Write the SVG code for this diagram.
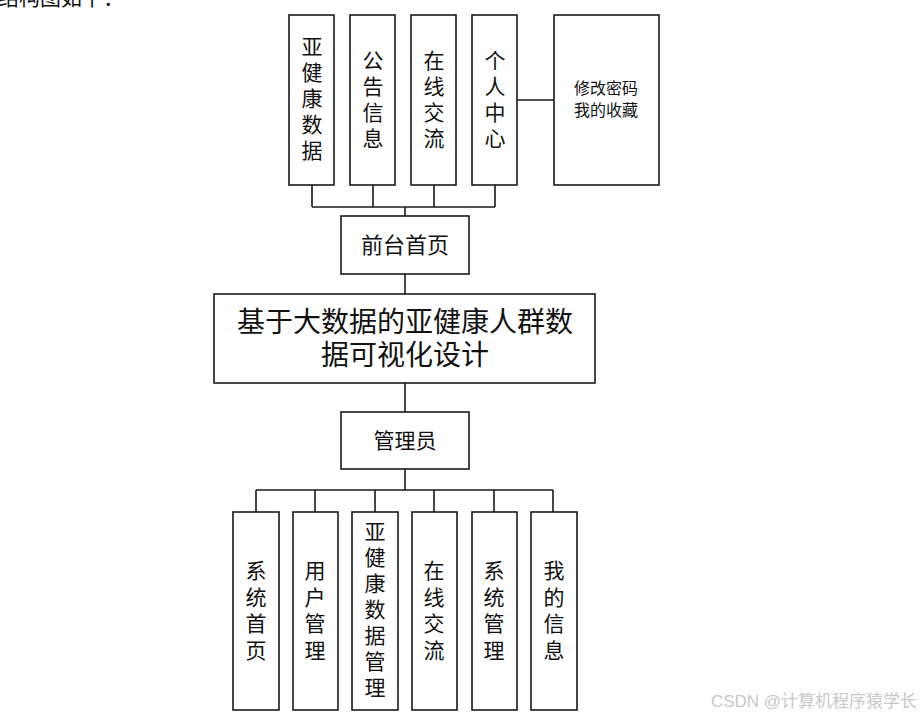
<svg xmlns="http://www.w3.org/2000/svg" width="922" height="716" viewBox="0 0 922 716">
<style>
.box{fill:#fff;stroke:#1a1a1a;stroke-width:1.6}
.ln{fill:none;stroke:#1a1a1a;stroke-width:1.6}
text{font-family:"Liberation Serif","Noto Sans CJK SC",serif;fill:#111;text-anchor:middle}
.v{font-size:21px}
.s{font-size:16px}
</style>
<rect width="922" height="716" fill="#fff"/>
<text x="-2" y="5" style="font-size:21px;text-anchor:start">结构图如下：</text>
<g id="connectors">
<path class="ln" d="M517,100H554"/>
<path class="ln" d="M312,185V207M373,185V207M434,185V207M495,185V207M312,207H495M405,207V216"/>
<path class="ln" d="M405,274V294M405,383V412M405,469V490"/>
<path class="ln" d="M256,490H553M256,490V512M315,490V512M375,490V512M434,490V512M494,490V512M553,490V512"/>
</g>
<g id="n-yajiankang">
<rect class="box" x="289" y="15" width="45" height="170"/>
<text class="v" x="312" y="54"><tspan x="312">亚</tspan><tspan x="312" dy="26">健</tspan><tspan x="312" dy="26">康</tspan><tspan x="312" dy="26">数</tspan><tspan x="312" dy="26">据</tspan></text>
</g>
<g id="n-gonggao">
<rect class="box" x="350" y="15" width="45" height="170"/>
<text class="v" x="373" y="68"><tspan x="373">公</tspan><tspan x="373" dy="26">告</tspan><tspan x="373" dy="26">信</tspan><tspan x="373" dy="26">息</tspan></text>
</g>
<g id="n-zaixian">
<rect class="box" x="411" y="15" width="45" height="170"/>
<text class="v" x="434" y="68"><tspan x="434">在</tspan><tspan x="434" dy="26">线</tspan><tspan x="434" dy="26">交</tspan><tspan x="434" dy="26">流</tspan></text>
</g>
<g id="n-geren">
<rect class="box" x="472" y="15" width="45" height="170"/>
<text class="v" x="495" y="68"><tspan x="495">个</tspan><tspan x="495" dy="26">人</tspan><tspan x="495" dy="26">中</tspan><tspan x="495" dy="26">心</tspan></text>
</g>
<g id="n-xiugai">
<rect class="box" x="554" y="15" width="105" height="170"/>
<text class="s" x="606" y="94">修改密码</text>
<text class="s" x="606" y="116">我的收藏</text>
</g>
<g id="n-qiantai">
<rect class="box" x="341" y="216" width="128" height="58"/>
<text style="font-size:22px" x="405" y="253">前台首页</text>
</g>
<g id="n-main">
<rect class="box" x="214" y="294" width="381" height="89"/>
<text style="font-size:28px" x="405" y="332">基于大数据的亚健康人群数</text>
<text style="font-size:28px" x="405" y="365">据可视化设计</text>
</g>
<g id="n-admin">
<rect class="box" x="341" y="412" width="128" height="57"/>
<text style="font-size:21px" x="405" y="448">管理员</text>
</g>
<g id="n-b1">
<rect class="box" x="233" y="512" width="46" height="198"/>
<text class="v" x="256" y="578"><tspan x="256">系</tspan><tspan x="256" dy="26.5">统</tspan><tspan x="256" dy="26.5">首</tspan><tspan x="256" dy="26.5">页</tspan></text>
</g>
<g id="n-b2">
<rect class="box" x="293" y="512" width="45" height="198"/>
<text class="v" x="315" y="578"><tspan x="315">用</tspan><tspan x="315" dy="26.5">户</tspan><tspan x="315" dy="26.5">管</tspan><tspan x="315" dy="26.5">理</tspan></text>
</g>
<g id="n-b3">
<rect class="box" x="352" y="512" width="46" height="198"/>
<text class="v" x="375" y="539"><tspan x="375">亚</tspan><tspan x="375" dy="26">健</tspan><tspan x="375" dy="26">康</tspan><tspan x="375" dy="26">数</tspan><tspan x="375" dy="26">据</tspan><tspan x="375" dy="26">管</tspan><tspan x="375" dy="26">理</tspan></text>
</g>
<g id="n-b4">
<rect class="box" x="412" y="512" width="45" height="198"/>
<text class="v" x="434" y="578"><tspan x="434">在</tspan><tspan x="434" dy="26.5">线</tspan><tspan x="434" dy="26.5">交</tspan><tspan x="434" dy="26.5">流</tspan></text>
</g>
<g id="n-b5">
<rect class="box" x="472" y="512" width="45" height="198"/>
<text class="v" x="494" y="578"><tspan x="494">系</tspan><tspan x="494" dy="26.5">统</tspan><tspan x="494" dy="26.5">管</tspan><tspan x="494" dy="26.5">理</tspan></text>
</g>
<g id="n-b6">
<rect class="box" x="531" y="512" width="46" height="198"/>
<text class="v" x="554" y="578"><tspan x="554">我</tspan><tspan x="554" dy="26.5">的</tspan><tspan x="554" dy="26.5">信</tspan><tspan x="554" dy="26.5">息</tspan></text>
</g>
<text x="814" y="707" style="font-size:17px;fill:#c8c8c8;font-family:'Liberation Sans','Noto Sans CJK SC',sans-serif">CSDN @计算机程序猿学长</text>
</svg>
